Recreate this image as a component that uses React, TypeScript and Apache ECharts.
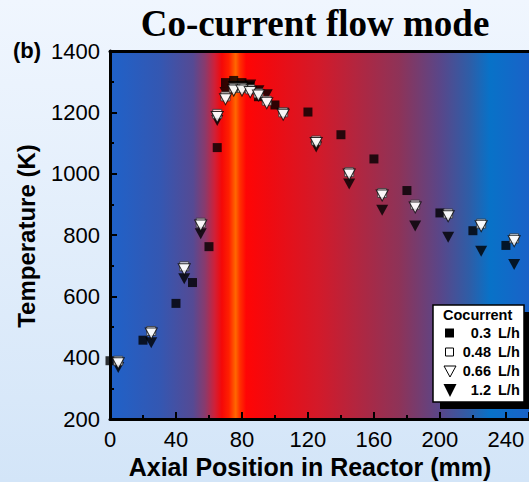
import React, { useEffect, useRef } from "react";
import * as echarts from "echarts";

const xTicks = [0, 40, 80, 120, 160, 200, 240];
const yTicks = [200, 400, 600, 800, 1000, 1200, 1400];

const pos03 = [0, 20, 40, 50, 60, 65, 70, 75, 80, 85, 90, 100, 120, 140, 160, 180, 200, 220, 240];
const temp03 = [390, 457, 577, 645, 762, 1085, 1297, 1304, 1297, 1286, 1251, 1224, 1201, 1127, 1048, 945, 872, 814, 766];

const posOther = [5, 25, 45, 55, 65, 70, 75, 80, 85, 90, 95, 105, 125, 145, 165, 185, 205, 225, 245];
const temp048 = [390, 487, 698, 840, 1195, 1252, 1280, 1280, 1275, 1262, 1238, 1200, 1108, 1005, 937, 899, 870, 837, 789];
const temp066 = [382, 479, 688, 831, 1185, 1243, 1271, 1271, 1266, 1255, 1230, 1192, 1100, 997, 929, 890, 861, 829, 780];
const temp12 = [368, 449, 657, 804, 1173, 1265, 1284, 1284, 1289, 1270, 1257, 1197, 1087, 966, 881, 829, 793, 747, 704];

const seriesNames = ["0.3", "0.48", "0.66", "1.2"];

const zip = (xs: number[], ys: number[]) => xs.map((x, i) => [x, ys[i]]);

const SANS = "'Liberation Sans', Arial, sans-serif";

export default function App() {
  const ref = useRef<HTMLDivElement>(null);
  useEffect(() => {
    document.body.style.margin = "0";
    const chart = echarts.init(ref.current!, null, { renderer: "svg" });
    const bg = new echarts.graphic.LinearGradient(0, 0, 1, 0, [
      { offset: 0, color: "#1f62c9" },
      { offset: 0.12, color: "#3457b2" },
      { offset: 0.198, color: "#554a94" },
      { offset: 0.227, color: "#8a3a6c" },
      { offset: 0.25, color: "#d02038" },
      { offset: 0.267, color: "#f50808" },
      { offset: 0.284, color: "#ff2000" },
      { offset: 0.3, color: "#ff6800" },
      { offset: 0.31, color: "#ff3000" },
      { offset: 0.325, color: "#ff0505" },
      { offset: 0.38, color: "#f00a10" },
      { offset: 0.5, color: "#d21a2a" },
      { offset: 0.69, color: "#8e3358" },
      { offset: 0.79, color: "#58478a" },
      { offset: 0.86, color: "#2d5ea8" },
      { offset: 0.907, color: "#0872c8" },
      { offset: 1, color: "#1a62c8" },
    ]);
    const legendX = 433;
    const legendY = 305;
    const rowY = [333, 352, 371, 390];
    const legendFont = "bold 14.5px " + SANS;
    const legendItems: any[] = [
      { type: "rect", shape: { x: legendX + 7, y: legendY + 7, width: 91, height: 97 }, style: { fill: "#000" } },
      { type: "rect", shape: { x: legendX, y: legendY, width: 91, height: 97 }, style: { fill: "#fff", stroke: "#000", lineWidth: 1.5 } },
      { type: "text", x: 443, y: 315, style: { text: "Cocurrent", font: legendFont, fill: "#000", verticalAlign: "middle" } },
    ];
    seriesNames.forEach((n, i) => {
      legendItems.push({ type: "text", x: 491, y: rowY[i], style: { text: n, font: legendFont, fill: "#000", align: "right", verticalAlign: "middle" } });
      legendItems.push({ type: "text", x: 498, y: rowY[i], style: { text: "L/h", font: legendFont, fill: "#000", align: "left", verticalAlign: "middle" } });
    });
    legendItems.push({ type: "rect", shape: { x: 445, y: rowY[0] - 4.5, width: 9, height: 9 }, style: { fill: "#000" } });
    legendItems.push({ type: "rect", shape: { x: 445.5, y: rowY[1] - 4, width: 8, height: 8 }, style: { fill: "#fff", stroke: "#000", lineWidth: 1 } });
    legendItems.push({ type: "polygon", shape: { points: [[444, rowY[2] - 5], [456, rowY[2] - 5], [450, rowY[2] + 6]] }, style: { fill: "#fff", stroke: "#000", lineWidth: 1 } });
    legendItems.push({ type: "polygon", shape: { points: [[443.5, rowY[3] - 6], [456.5, rowY[3] - 6], [450, rowY[3] + 7]] }, style: { fill: "#000" } });

    chart.setOption({
      animation: false,
      grid: { left: 110, top: 51, right: 0, bottom: 63, show: true, backgroundColor: bg, borderWidth: 0 },
      xAxis: [
        {
          type: "value",
          min: 0,
          max: 254,
          interval: 40,
          axisLine: { show: true, lineStyle: { color: "#000", width: 3 } },
          axisTick: { show: true, inside: true, length: 7, lineStyle: { color: "#000", width: 2 } },
          minorTick: { show: true, splitNumber: 2, length: 4, lineStyle: { color: "#000", width: 2 } },
          splitLine: { show: false },
          axisLabel: {
            showMaxLabel: false,
            fontSize: 22,
            color: "#000",
            fontFamily: SANS,
            margin: 9,
            formatter: (v: number) => (xTicks.includes(v) ? String(v) : ""),
          },
        },
        {
          type: "value",
          position: "top",
          min: 0,
          max: 254,
          axisLine: { show: true, onZero: false, lineStyle: { color: "#000", width: 3 } },
          axisTick: { show: false },
          axisLabel: { show: false },
          splitLine: { show: false },
        },
      ],
      yAxis: {
        type: "value",
        min: 200,
        max: 1400,
        interval: 200,
        axisLine: { show: true, lineStyle: { color: "#000", width: 3 } },
        axisTick: { show: true, inside: true, length: 7, lineStyle: { color: "#000", width: 2 } },
        minorTick: { show: true, splitNumber: 2, length: 4, lineStyle: { color: "#000", width: 2 } },
        splitLine: { show: false },
        axisLabel: {
          fontSize: 22,
          color: "#000",
          fontFamily: SANS,
          margin: 10,
          formatter: (v: number) => (yTicks.includes(v) ? String(v) : ""),
        },
      },
      series: [
        {
          name: seriesNames[0] + " L/h",
          type: "scatter",
          data: zip(pos03, temp03),
          symbol: "rect",
          symbolSize: 9,
          itemStyle: { color: "#000" },
          z: 2,
        },
        {
          name: seriesNames[3] + " L/h",
          type: "scatter",
          data: zip(posOther, temp12),
          symbol: "triangle",
          symbolRotate: 180,
          symbolSize: [12, 11],
          itemStyle: { color: "#000" },
          z: 3,
        },
        {
          name: seriesNames[1] + " L/h",
          type: "scatter",
          data: zip(posOther, temp048),
          symbol: "rect",
          symbolSize: 9,
          itemStyle: { color: "#fff", borderColor: "#333", borderWidth: 1 },
          z: 4,
        },
        {
          name: seriesNames[2] + " L/h",
          type: "scatter",
          data: zip(posOther, temp066),
          symbol: "triangle",
          symbolRotate: 180,
          symbolSize: [12, 11],
          itemStyle: { color: "#fff", borderColor: "#000", borderWidth: 1 },
          z: 5,
        },
      ],
      graphic: [
        { type: "text", x: 315, y: 23, style: { text: "Co-current flow mode", font: "bold 37px 'Liberation Serif', 'Times New Roman', serif", fill: "#000", align: "center", verticalAlign: "middle" } },
        { type: "text", x: 13, y: 50, style: { text: "(b)", font: "bold 22px " + SANS, fill: "#000", align: "left", verticalAlign: "middle" } },
        { type: "text", x: 310, y: 467, style: { text: "Axial Position in Reactor (mm)", font: "bold 25px " + SANS, fill: "#000", align: "center", verticalAlign: "middle" } },
        { type: "text", x: 26, y: 236, rotation: Math.PI / 2, style: { text: "Temperature (K)", font: "bold 24px " + SANS, fill: "#000", align: "center", verticalAlign: "middle" } },
        ...legendItems,
      ],
    });
    return () => chart.dispose();
  }, []);
  return (
    <div style={{ width: 529, height: 482, background: "linear-gradient(to bottom, #f0f6fe, #d3e5f8)" }}>
      <div ref={ref} style={{ width: 529, height: 482 }} />
    </div>
  );
}
